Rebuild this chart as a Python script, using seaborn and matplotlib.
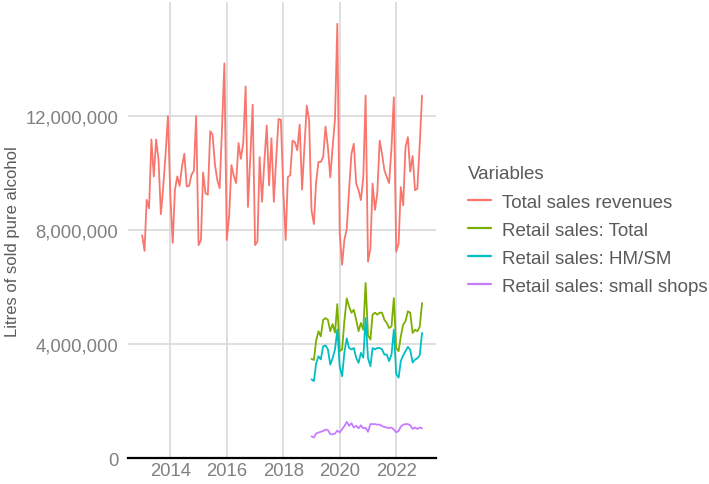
import matplotlib
matplotlib.use("Agg")
import matplotlib.pyplot as plt
from matplotlib.ticker import FuncFormatter
import seaborn as sns
import pandas as pd

# monthly values, millions of litres of pure alcohol
total_sales = [
    7.82, 7.27, 9.06, 8.76, 11.18, 9.88, 11.18, 10.47, 8.56, 9.51, 10.70, 12.00,
    9.20, 7.55, 9.41, 9.88, 9.55, 10.24, 10.68, 9.53, 9.55, 9.94, 10.08, 12.00,
    7.47, 7.65, 10.02, 9.29, 9.24, 11.47, 11.35, 10.30, 9.75, 9.47, 11.60, 13.85,
    7.65, 8.50, 10.28, 9.90, 9.65, 11.05, 10.50, 11.06, 13.04, 8.81, 10.60, 12.40,
    7.47, 7.60, 10.56, 8.99, 10.40, 11.67, 9.57, 11.22, 8.99, 10.50, 11.90, 11.87,
    9.40, 7.65, 9.86, 9.92, 11.14, 11.08, 10.80, 11.70, 9.42, 10.90, 12.37, 11.86,
    8.70, 8.21, 9.66, 10.39, 10.39, 10.56, 11.63, 10.91, 9.85, 10.90, 11.90, 15.24,
    7.90, 6.78, 7.65, 8.04, 9.40, 10.68, 11.03, 9.63, 9.40, 9.05, 9.86, 12.72,
    6.89, 7.35, 9.63, 8.71, 9.29, 11.14, 10.68, 10.10, 9.86, 9.65, 10.90, 12.66,
    7.24, 7.53, 9.51, 8.87, 10.91, 11.26, 10.05, 10.60, 9.40, 9.45, 11.00, 12.72,
]
retail_total = [
    3.48, 3.44, 4.10, 4.45, 4.27, 4.85, 4.91, 4.85, 4.45, 4.70, 4.40, 5.40,
    3.75, 3.81, 4.80, 5.60, 5.32, 5.10, 5.20, 4.85, 4.45, 4.74, 4.50, 6.14,
    4.30, 4.16, 5.03, 5.10, 5.03, 5.10, 5.10, 4.85, 4.74, 4.56, 4.62, 5.61,
    3.86, 3.75, 4.27, 4.68, 4.80, 5.15, 5.10, 4.39, 4.50, 4.45, 4.60, 5.44,
]
retail_hmsm = [
    2.76, 2.70, 3.30, 3.57, 3.46, 3.92, 3.95, 3.81, 3.28, 3.50, 3.81, 4.51,
    3.20, 2.87, 3.70, 4.20, 3.86, 3.81, 3.86, 3.52, 3.34, 3.69, 3.52, 4.91,
    3.50, 3.22, 3.86, 3.81, 3.86, 3.86, 3.81, 3.63, 3.63, 3.40, 3.63, 4.50,
    2.95, 2.82, 3.40, 3.60, 3.75, 3.90, 3.80, 3.35, 3.45, 3.50, 3.60, 4.39,
]
retail_small = [
    0.76, 0.72, 0.86, 0.89, 0.92, 0.95, 1.00, 0.98, 0.84, 0.83, 0.86, 0.96,
    0.90, 1.01, 1.12, 1.27, 1.13, 1.22, 1.07, 1.13, 1.04, 1.15, 1.04, 1.06,
    0.92, 1.19, 1.19, 1.19, 1.17, 1.17, 1.12, 1.09, 1.07, 1.05, 1.07, 1.00,
    0.90, 0.95, 1.10, 1.17, 1.19, 1.19, 1.15, 1.02, 1.07, 1.02, 1.07, 1.04,
]

series_names = ["Total sales revenues", "Retail sales: Total",
                "Retail sales: HM/SM", "Retail sales: small shops"]
palette = ["#F8766D", "#7CAE00", "#00BFC4", "#C77CFF"]
year_ticks = [2014, 2016, 2018, 2020, 2022]
y_ticks = [0, 4_000_000, 8_000_000, 12_000_000]

months_total = pd.date_range("2013-01-01", periods=len(total_sales), freq="MS")
months_retail = pd.date_range("2019-01-01", periods=len(retail_total), freq="MS")

frames = [pd.DataFrame({"date": months_total, "value": total_sales, "Variables": series_names[0]})]
for name, vals in zip(series_names[1:], [retail_total, retail_hmsm, retail_small]):
    frames.append(pd.DataFrame({"date": months_retail, "value": vals, "Variables": name}))
df = pd.concat(frames, ignore_index=True)
df["value"] = df["value"] * 1e6

sns.set_theme(style="white")
plt.rcParams["font.family"] = ["Liberation Sans", "DejaVu Sans"]

fig = plt.figure(figsize=(7.09, 4.85), dpi=100)
ax = fig.add_axes([0.1805, 0.0536, 0.4345, 0.94])

sns.lineplot(data=df, x="date", y="value", hue="Variables", hue_order=series_names,
             palette=palette, linewidth=1.3, ax=ax, legend=True)

ax.set_xlim(pd.Timestamp("2012-07-02"), pd.Timestamp("2023-05-31"))
ax.set_ylim(0, 16_000_000)
ax.set_xticks([pd.Timestamp(f"{y}-01-01") for y in year_ticks])
ax.set_xticklabels([str(y) for y in year_ticks])
ax.set_yticks(y_ticks)
ax.yaxis.set_major_formatter(FuncFormatter(lambda v, p: f"{v:,.0f}"))
ax.grid(True, color="#d6d6d6", linewidth=1.1)
ax.set_axisbelow(True)
for s in ["top", "right", "left"]:
    ax.spines[s].set_visible(False)
ax.spines["bottom"].set_color("black")
ax.spines["bottom"].set_linewidth(1.6)
ax.tick_params(axis="both", length=0, labelsize=13.3, colors="#808080")
ax.tick_params(axis="y", pad=7)
ax.tick_params(axis="x", pad=3)
ax.set_xlabel("")
ax.set_ylabel("Litres of sold pure alcohol", fontsize=12, color="#5a5a5a")
ax.yaxis.set_label_coords(-0.352, 0.477)

leg = ax.legend(title="Variables", loc="center left", bbox_to_anchor=(1.05, 0.5),
                frameon=False, fontsize=13.5, title_fontsize=13.5,
                handlelength=1.2, handletextpad=0.6, labelspacing=0.58)
leg._legend_box.align = "left"
leg._legend_box.sep = 8
for t in leg.get_texts():
    t.set_color("#5a5a5a")
leg.get_title().set_color("#5a5a5a")
for h in leg.get_lines():
    h.set_linewidth(1.6)

fig.savefig("out.png", dpi=100)
